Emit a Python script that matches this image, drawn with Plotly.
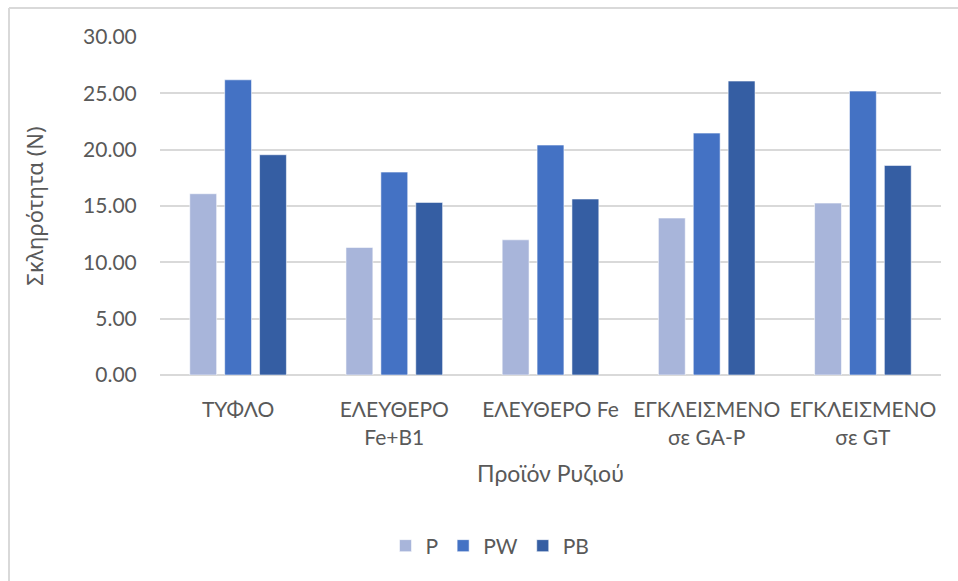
import plotly.graph_objects as go

# Hardness of rice products under three treatments
categories = ["ΤΥΦΛΟ", "ΕΛΕΥΘΕΡΟ<br>Fe+B1", "ΕΛΕΥΘΕΡΟ Fe", "ΕΓΚΛΕΙΣΜΕΝΟ<br>σε GA-P", "ΕΓΚΛΕΙΣΜΕΝΟ<br>σε GT"]
p_values = [16.09, 11.32, 12.00, 13.93, 15.26]
pw_values = [26.20, 18.01, 20.41, 21.47, 25.20]
pb_values = [19.55, 15.32, 15.62, 26.09, 18.60]
y_ticks = [0, 5, 10, 15, 20, 25, 30]

series = [
    ("P", p_values, "#A8B5DA"),
    ("PW", pw_values, "#4472C4"),
    ("PB", pb_values, "#355EA3"),
]

FONT = "Lato, Calibri, Carlito, sans-serif"
TXT = "#595959"

fig = go.Figure()
for name, vals, color in series:
    fig.add_trace(go.Bar(
        name=name, x=categories, y=vals,
        marker=dict(color=color, line=dict(color="rgba(255,255,255,0.55)", width=1)),
    ))

W, H = 958, 581
ML, MR, MT, MB = 160, 17, 37, 206
pw_ = W - ML - MR
ph = H - MT - MB

fig.update_layout(
    width=W, height=H,
    margin=dict(l=ML, r=MR, t=MT, b=MB, autoexpand=False),
    paper_bgcolor="white", plot_bgcolor="white",
    barmode="group", bargap=0.33, bargroupgap=0.23,
    font=dict(family=FONT, size=21, color=TXT),
    showlegend=True,
    legend=dict(
        orientation="h", x=(490 - ML) / pw_, xanchor="center",
        y=(MT + ph - 546) / ph, yanchor="middle",
        font=dict(family=FONT, size=21, color=TXT),
        itemwidth=30, tracegroupgap=0, bgcolor="rgba(0,0,0,0)",
    ),
    xaxis=dict(
        showgrid=False, showline=False, zeroline=False,
        ticks="outside", ticklen=16, tickcolor="rgba(0,0,0,0)",
        tickfont=dict(family=FONT, size=21, color=TXT),
        title=dict(text="Προϊόν Ρυζιού", font=dict(family=FONT, size=23, color=TXT), standoff=18),
    ),
    yaxis=dict(
        range=[0, 30], tickvals=y_ticks, tickformat=".2f",
        showgrid=True, gridcolor="#D9D9D9", gridwidth=2,
        zeroline=True, zerolinecolor="#D9D9D9", zerolinewidth=2,
        showline=False,
        ticks="outside", ticklen=18, tickcolor="rgba(0,0,0,0)",
        tickfont=dict(family=FONT, size=21, color=TXT),
        title=dict(text="Σκληρότητα (N)", font=dict(family="Noto Sans, Open Sans, sans-serif", size=22, color=TXT), standoff=33),
    ),
    shapes=[
        dict(type="line", xref="paper", yref="paper",
             x0=(9 - ML) / pw_, x1=1 + (MR + 5) / pw_,
             y0=(MT + ph - 8) / ph, y1=(MT + ph - 8) / ph,
             line=dict(color="#D9D9D9", width=2)),
        dict(type="line", xref="paper", yref="paper",
             x0=(9 - ML) / pw_, x1=(9 - ML) / pw_,
             y0=(MT + ph - 8) / ph, y1=(MT + ph - 590) / ph,
             line=dict(color="#D9D9D9", width=2)),
    ],
)

fig.write_html("out.html")
